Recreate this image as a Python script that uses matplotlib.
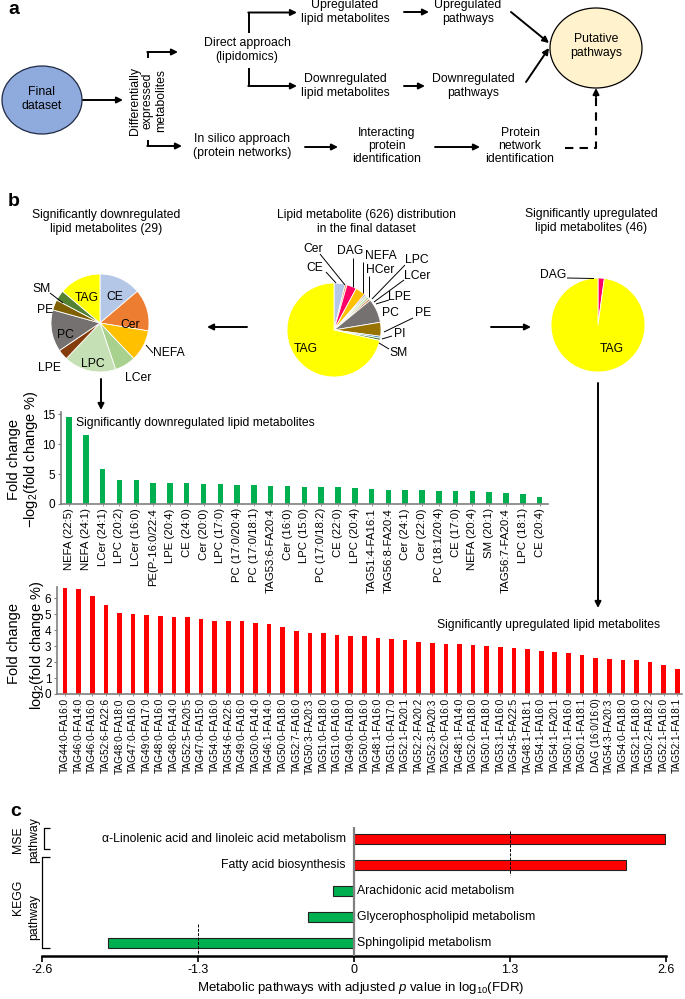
import matplotlib
matplotlib.use('Agg')
import matplotlib.pyplot as plt
from matplotlib.patches import Ellipse

plt.rcParams['font.family'] = ['Liberation Sans', 'DejaVu Sans']
plt.rcParams['mathtext.fontset'] = 'custom'
plt.rcParams['mathtext.rm'] = 'Liberation Sans'
plt.rcParams['mathtext.it'] = 'Liberation Sans:italic'

W, H = 685, 999

# ---------------- data ----------------
down_classes = ['CE', 'Cer', 'NEFA', 'LCer', 'LPC', 'LPE', 'PC', 'PE', 'SM', 'TAG']
down_counts = [4, 4, 3, 2, 5, 1, 4, 1, 1, 4]
down_colors = ['#B4C7E7', '#ED7D31', '#FFC000', '#A9D18E', '#C5E0B4',
               '#843C0C', '#767171', '#7F6000', '#548235', '#FFFF00']

all_classes = ['CE', 'Cer', 'DAG', 'NEFA', 'HCer', 'LPC', 'LCer', 'LPE',
               'PC', 'PI', 'PE', 'SM', 'TAG']
all_counts = [24, 4, 21, 22, 3, 5, 5, 4, 52, 30, 4, 5, 447]
all_colors = ['#B4C7E7', '#ED7D31', '#FF0066', '#FFC000', '#7030A0', '#C5E0B4',
              '#A9D18E', '#C55A11', '#767171', '#997300', '#2E75B6', '#548235',
              '#FFFF00']

up_classes = ['DAG', 'TAG']
up_counts = [1, 45]
up_colors = ['#FF0066', '#FFFF00']

green_labels = ['NEFA (22:5)', 'NEFA (24:1)', 'LCer (24:1)', 'LPC (20:2)', 'LCer (16:0)',
                'PE(P-16:0/22:4', 'LPE (20:4)', 'CE (24:0)', 'Cer (20:0)', 'LPC (17:0)',
                'PC (17:0/20:4)', 'PC (17:0/18:1)', 'TAG53:6-FA20:4', 'Cer (16:0)',
                'LPC (15:0)', 'PC (17:0/18:2)', 'CE (22:0)', 'LPC (20:4)',
                'TAG51:4-FA16:1', 'TAG56:8-FA20:4', 'Cer (24:1)', 'Cer (22:0)',
                'PC (18:1/20:4)', 'CE (17:0)', 'NEFA (20:4)', 'SM (20:1)',
                'TAG56:7-FA20:4', 'LPC (18:1)', 'CE (20:4)']
green_values = [14.6, 11.5, 5.8, 4.1, 4.1, 3.5, 3.5, 3.45, 3.4, 3.3, 3.2, 3.1, 3.0,
                3.0, 2.9, 2.8, 2.8, 2.7, 2.5, 2.4, 2.4, 2.3, 2.2, 2.1, 2.1, 2.0,
                1.8, 1.6, 1.1]

red_labels = ['TAG44:0-FA16:0', 'TAG46:0-FA14:0', 'TAG46:0-FA16:0', 'TAG52:6-FA22:6',
              'TAG48:0-FA18:0', 'TAG47:0-FA16:0', 'TAG49:0-FA17:0', 'TAG48:0-FA16:0',
              'TAG48:0-FA14:0', 'TAG52:5-FA20:5', 'TAG47:0-FA15:0', 'TAG54:0-FA16:0',
              'TAG54:6-FA22:6', 'TAG49:0-FA16:0', 'TAG50:0-FA14:0', 'TAG46:1-FA14:0',
              'TAG50:0-FA18:0', 'TAG52:7-FA16:0', 'TAG50:3-FA20:3', 'TAG51:0-FA18:0',
              'TAG51:0-FA16:0', 'TAG49:0-FA18:0', 'TAG50:0-FA16:0', 'TAG48:1-FA16:0',
              'TAG51:0-FA17:0', 'TAG52:1-FA20:1', 'TAG52:2-FA20:2', 'TAG52:3-FA20:3',
              'TAG52:0-FA16:0', 'TAG48:1-FA14:0', 'TAG52:0-FA18:0', 'TAG50:1-FA18:0',
              'TAG53:1-FA16:0', 'TAG54:5-FA22:5', 'TAG48:1-FA18:1', 'TAG54:1-FA16:0',
              'TAG54:1-FA20:1', 'TAG50:1-FA16:0', 'TAG50:1-FA18:1', 'DAG (16:0/16:0)',
              'TAG54:3-FA20:3', 'TAG54:0-FA18:0', 'TAG52:1-FA18:0', 'TAG50:2-FA18:2',
              'TAG52:1-FA16:0', 'TAG52:1-FA18:1']
red_values = [6.62, 6.58, 6.15, 5.6, 5.07, 5.03, 4.92, 4.86, 4.83, 4.81, 4.67, 4.6,
              4.6, 4.58, 4.47, 4.36, 4.2, 3.95, 3.83, 3.8, 3.72, 3.64, 3.61, 3.52,
              3.44, 3.38, 3.24, 3.18, 3.16, 3.14, 3.07, 2.98, 2.94, 2.88, 2.79, 2.67,
              2.61, 2.55, 2.44, 2.24, 2.21, 2.16, 2.1, 1.99, 1.84, 1.59]

pathways = ['\u03b1-Linolenic acid and linoleic acid metabolism', 'Fatty acid biosynthesis',
            'Arachidonic acid metabolism', 'Glycerophospholipid metabolism',
            'Sphingolipid metabolism']
pathway_log_fdr = [2.59, 2.27, -0.17, -0.38, -2.05]
fdr_ticks = [-2.6, -1.3, 0, 1.3, 2.6]
fdr_ticklabels = ['-2.6', '-1.3', '0', '1.3', '2.6']

RED = '#FF0000'
GREEN = '#00B050'
GREY = '#808080'

# ---------------- figure ----------------
fig = plt.figure(figsize=(W / 100, H / 100), dpi=100)
ov = fig.add_axes([0, 0, 1, 1])


def px_axes(l, t, r, b):
    ax = fig.add_axes([l / W, 1 - b / H, (r - l) / W, (b - t) / H])
    ax.patch.set_alpha(0)
    return ax


def txt(x, y, s, size=8.8, **kw):
    opts = dict(ha='center', va='center', fontsize=size, linespacing=1.15)
    opts.update(kw)
    ov.text(x, y, s, **opts)


def arrow(x0, y0, x1, y1, lw=1.4):
    ov.annotate('', xy=(x1, y1), xytext=(x0, y0),
                arrowprops=dict(arrowstyle='-|>', color='k', lw=lw,
                                mutation_scale=9, shrinkA=0, shrinkB=0))


def line(xs, ys, lw=1.4, **kw):
    ov.plot(xs, ys, color='k', lw=lw, solid_capstyle='butt', **kw)


# ---- pies (drawn on pixel overlay, y axis pointing down) ----
wp = dict(edgecolor='white', linewidth=0.6)
ov.pie(down_counts, colors=down_colors, center=(100, 323), radius=49,
       startangle=-90, counterclock=True, wedgeprops=wp)
ov.pie(all_counts, colors=all_colors, center=(334, 330), radius=47,
       startangle=-90, counterclock=True, wedgeprops=wp)
ov.pie(up_counts, colors=up_colors, center=(598, 325), radius=47,
       startangle=-90, counterclock=True, wedgeprops=wp)
ov.set_aspect('auto')
ov.set_xlim(0, W)
ov.set_ylim(H, 0)
ov.axis('off')

# ---------------- panel a ----------------
txt(8, 10, 'a', size=14, weight='bold', ha='left')
ov.add_patch(Ellipse((42, 100), 80, 68, fc='#8FAADC', ec='#1F2A44', lw=0.9))
txt(42, 99, 'Final\ndataset')
arrow(83, 100, 123, 100)
txt(148, 101, 'Differentially\nexpressed\nmetabolites', rotation=90)
line([148, 148], [58, 52])
arrow(147.3, 52, 178, 52)
line([148, 148], [140, 146])
arrow(147.3, 146, 182, 146)

txt(247, 50, 'Direct approach\n(lipidomics)')
line([249, 249], [33, 12.5])
arrow(248.3, 12.5, 297, 12.5)
line([249, 249], [68, 86])
arrow(248.3, 86, 297, 86)
txt(345, 12, 'Upregulated\nlipid metabolites')
txt(345, 86, 'Downregulated\nlipid metabolites')
arrow(404, 12, 429, 12)
arrow(404, 86, 425, 86)
txt(468, 12, 'Upregulated\npathways')
txt(473, 86, 'Downregulated\npathways')
arrow(511, 12, 549, 43)
arrow(526, 82, 549, 48)
ov.add_patch(Ellipse((596, 48), 92, 80, fc='#FFF2CC', ec='k', lw=0.9))
txt(596, 46, 'Putative\npathways')

txt(242, 146, 'In silico approach\n(protein networks)')
arrow(305, 147, 338, 147)
txt(387, 146, 'Interacting\nprotein\nidentification')
arrow(435, 147, 480, 147)
txt(520, 146, 'Protein\nnetwork\nidentification')
line([565, 596, 596], [148, 148, 97], lw=1.5, ls=(0, (4, 3)))
arrow(596, 97, 596, 88)

# ---------------- panel b ----------------
txt(8, 202, 'b', size=14, weight='bold', ha='left')
txt(106, 222, 'Significantly downregulated\nlipid metabolites (29)', size=8.7)
txt(366, 222, 'Lipid metabolite (626) distribution\nin the final dataset', size=8.7)
txt(591, 221, 'Significantly upregulated\nlipid metabolites (46)', size=8.7)

# down pie labels
for s, (x, y) in zip(['TAG', 'CE', 'Cer', 'PC', 'LPC'],
                     [(87, 298), (115, 297), (130, 325), (65, 335), (93, 364)]):
    txt(x, y, s, size=8.7)
for s, (x, y) in zip(['SM', 'PE', 'LPE', 'LCer', 'NEFA'],
                     [(42, 289), (45, 310), (50, 368), (138, 378), (169, 353)]):
    txt(x, y, s, size=8.7)
line([50, 63], [293, 303], lw=0.7)
line([153, 146], [353, 345], lw=0.7)

# middle pie labels and leaders
mid_lab = [('Cer', 313, 249), ('CE', 315, 268), ('DAG', 350, 251), ('NEFA', 381, 256),
           ('HCer', 380, 270), ('LPC', 417, 260), ('LCer', 417, 276), ('LPE', 400, 297),
           ('PC', 390, 313), ('PE', 423, 313), ('PI', 400, 334), ('SM', 399, 353),
           ('TAG', 306, 349)]
for s, x, y in mid_lab:
    txt(x, y, s, size=8.7)
mid_lead = [((320, 345), (254, 285)), ((326, 336), (272, 283)), ((353, 353), (258, 287)),
            ((363, 363), (262, 293)), ((369, 369), (276, 297)), ((405, 372), (265, 299)),
            ((404, 374), (280, 302)), ((389, 376), (300, 304)), ((413, 384), (318, 332)),
            ((392, 382), (336, 339)), ((389, 379), (349, 343))]
for xs, ys in mid_lead:
    line(xs, ys, lw=0.7)

# up pie labels
txt(553, 275, 'DAG', size=8.7)
line([567, 594], [278, 278.5], lw=0.7)
txt(612, 349, 'TAG', size=8.7)

arrow(247, 327, 207, 327)
arrow(491, 327, 531, 327)
arrow(101, 379, 101, 410)
arrow(598, 383, 598, 608)

txt(76, 423, 'Significantly downregulated lipid metabolites', size=8.7, ha='left')
txt(437, 625, 'Significantly upregulated lipid metabolites', size=8.7, ha='left')

# ---- green bar chart ----
axg = px_axes(61, 411.5, 548, 504)
axg.bar(range(len(green_values)), green_values, width=0.33, color=GREEN)
axg.set_xlim(-0.48, 28.5)
axg.set_ylim(0, 15.5)
axg.set_yticks([0, 5, 10, 15])
axg.set_xticks(range(len(green_labels)))
axg.set_xticklabels(green_labels, rotation=90, fontsize=8.2)

# ---- red bar chart ----
axr = px_axes(57, 587, 682, 694)
axr.bar(range(len(red_values)), red_values, width=0.34, color=RED)
axr.set_xlim(-0.59, 45.35)
axr.set_ylim(0, 6.7)
axr.set_yticks(range(7))
axr.set_xticks(range(len(red_labels)))
axr.set_xticklabels(red_labels, rotation=90, fontsize=7.3)

for ax in (axg, axr):
    for sp in ('top', 'right'):
        ax.spines[sp].set_visible(False)
    for sp in ('left', 'bottom'):
        ax.spines[sp].set_color(GREY)
        ax.spines[sp].set_linewidth(1.2)
    ax.tick_params(axis='y', length=2.5, width=0.8, color=GREY, pad=1.5, labelsize=8.5)
    ax.tick_params(axis='x', length=1.5, width=0.6, color=GREY, pad=1.5)

txt(14, 460, 'Fold change', size=10.5, rotation=90)
txt(31, 459, '\u2212log$_2$(fold change %)', size=10.5, rotation=90)
txt(14, 644, 'Fold change', size=10.5, rotation=90)
txt(37, 645, 'log$_2$(fold change %)', size=10.5, rotation=90)

# ---------------- panel c ----------------
txt(10, 811, 'c', size=14, weight='bold', ha='left')
axc = px_axes(41.7, 827, 665.8, 956)
ypos = range(len(pathways))
axc.barh(ypos, pathway_log_fdr, height=0.38,
         color=[RED if v > 0 else GREEN for v in pathway_log_fdr],
         edgecolor='#222222', linewidth=0.8, zorder=2)
axc.axvline(0, color=GREY, lw=1.6, zorder=3)
axc.vlines(1.3, -0.31, 1.38, colors='k', linestyles=(0, (3, 1.5)), lw=0.7, zorder=4)
axc.vlines(-1.3, 3.27, 4.5, colors='k', linestyles=(0, (3, 1.5)), lw=0.7, zorder=4)
for i, (name, v) in enumerate(zip(pathways, pathway_log_fdr)):
    if v > 0:
        axc.text(-0.065, i, name, ha='right', va='center', fontsize=8.8)
    else:
        axc.text(0.03, i, name, ha='left', va='center', fontsize=8.8)
axc.set_xlim(-2.6, 2.6)
axc.set_ylim(4.5, -0.46)
axc.set_yticks([])
axc.set_xticks(fdr_ticks)
axc.set_xticklabels(fdr_ticklabels, fontsize=9)
for sp in ('top', 'right', 'left'):
    axc.spines[sp].set_visible(False)
axc.spines['bottom'].set_linewidth(1.8)
axc.tick_params(axis='x', length=4, width=1.2, pad=2)

# pathway-group brackets
line([50, 44, 44, 50], [828, 828, 849, 849], lw=0.9)
line([50, 42, 42, 50], [857, 857, 948, 948], lw=0.9)
txt(18, 840, 'MSE', size=8.8, rotation=90)
txt(34, 840, 'pathway', size=8.8, rotation=90)
txt(18, 897, 'KEGG', size=8.8, rotation=90)
txt(34, 917, 'pathway', size=8.8, rotation=90)

txt(361, 988, 'Metabolic pathways with adjusted $p$ value in log$_{10}$(FDR)', size=9.5)

fig.savefig('out.png', dpi=100)
